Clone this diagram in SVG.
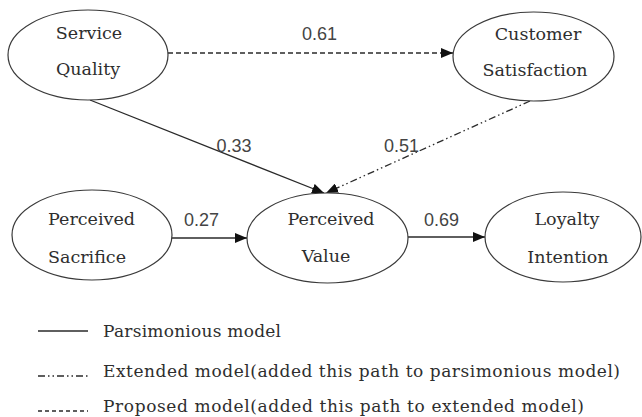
<svg xmlns="http://www.w3.org/2000/svg" width="642" height="417" viewBox="0 0 642 417">
  <style>
    .node ellipse { fill: #ffffff; stroke: #3a3a3a; stroke-width: 1.2; }
    .node text { font-family: "DejaVu Serif", "Liberation Serif", serif; font-size: 17.5px; fill: #2e2e2e; text-anchor: middle; }
    .edge { fill: none; stroke: #2a2a2a; stroke-width: 1.3; }
    .proposed { stroke-dasharray: 5 3; }
    .extended { stroke-dasharray: 7 3 1.5 3 1.5 3; }
    .coef { font-family: "Liberation Sans", Arial, sans-serif; font-size: 18px; fill: #444444; text-anchor: middle; }
    .legend text { font-family: "DejaVu Serif", "Liberation Serif", serif; font-size: 17px; fill: #2e2e2e; }
  </style>
  <defs>
    <marker id="head" viewBox="0 0 12 10" refX="12" refY="5" markerWidth="12" markerHeight="10" markerUnits="userSpaceOnUse" orient="auto">
      <path d="M0,0 L12,5 L0,10 Z" fill="#111111"/>
    </marker>
  </defs>

  <!-- connectors -->
  <g id="connectors">
    <line class="edge proposed" x1="168" y1="53" x2="453" y2="53" marker-end="url(#head)"/>
    <line class="edge" x1="90" y1="100" x2="324" y2="193" marker-end="url(#head)"/>
    <line class="edge extended" x1="530" y1="101" x2="326" y2="193" marker-end="url(#head)"/>
    <line class="edge" x1="172" y1="238" x2="247" y2="238" marker-end="url(#head)"/>
    <line class="edge" x1="408" y1="237" x2="485" y2="237" marker-end="url(#head)"/>
    <text class="coef" x="319.5" y="40">0.61</text>
    <text class="coef" x="234" y="152">0.33</text>
    <text class="coef" x="401.5" y="152">0.51</text>
    <text class="coef" x="201.5" y="226">0.27</text>
    <text class="coef" x="441.5" y="226">0.69</text>
  </g>

  <!-- latent constructs -->
  <g id="service-quality" class="node">
    <ellipse cx="88" cy="55" rx="80" ry="45"/>
    <text x="89" y="39">Service</text>
    <text x="88" y="75">Quality</text>
  </g>
  <g id="customer-satisfaction" class="node">
    <ellipse cx="533.5" cy="56.5" rx="80.5" ry="44.5"/>
    <text x="538" y="40">Customer</text>
    <text x="535" y="76">Satisfaction</text>
  </g>
  <g id="perceived-sacrifice" class="node">
    <ellipse cx="92" cy="235" rx="80" ry="45"/>
    <text x="91.5" y="225">Perceived</text>
    <text x="87" y="263">Sacrifice</text>
  </g>
  <g id="perceived-value" class="node">
    <ellipse cx="327.5" cy="238" rx="80.5" ry="45"/>
    <text x="331" y="225">Perceived</text>
    <text x="326" y="262">Value</text>
  </g>
  <g id="loyalty-intention" class="node">
    <ellipse cx="563" cy="237" rx="78" ry="45"/>
    <text x="567" y="225">Loyalty</text>
    <text x="568" y="263">Intention</text>
  </g>

  <!-- key to line styles -->
  <g id="legend" class="legend">
    <line class="edge" x1="38" y1="331" x2="88" y2="331"/>
    <text x="103" y="337" textLength="178" lengthAdjust="spacing">Parsimonious model</text>
    <line class="edge extended" x1="38" y1="376" x2="88" y2="376"/>
    <text x="103" y="377" textLength="517" lengthAdjust="spacing">Extended model(added this path to parsimonious model)</text>
    <line class="edge" stroke-dasharray="4 3" x1="38" y1="411" x2="88" y2="411"/>
    <text x="103" y="412" textLength="481" lengthAdjust="spacing">Proposed model(added this path to extended model)</text>
  </g>
</svg>
